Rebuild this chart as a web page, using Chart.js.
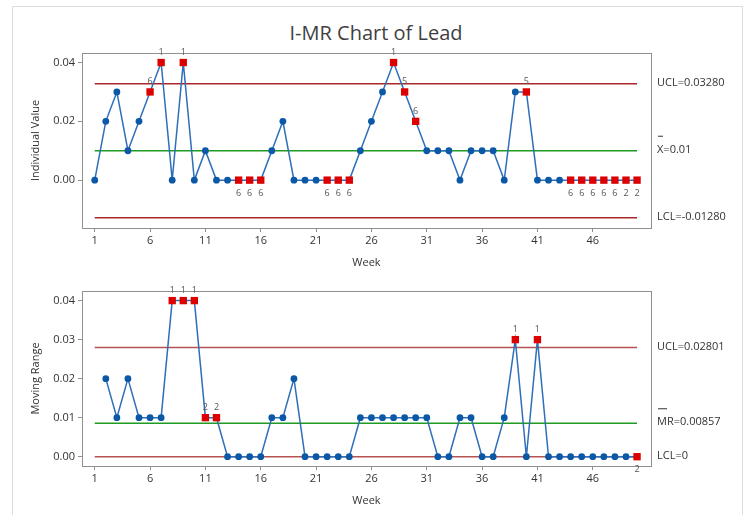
<!DOCTYPE html>
<html>
<head>
<meta charset="utf-8">
<script src="https://cdn.jsdelivr.net/npm/chart.js@4.4.1/dist/chart.umd.min.js"></script>
<style>
body { margin: 0; background: #fff; width: 747px; height: 515px; overflow: hidden; position: relative; font-family: "Open Sans", sans-serif; }
#frame { position: absolute; left: 12px; top: 6px; width: 729px; height: 530px; border: 1px solid #dcdcdc; }
#title { position: absolute; left: 0; width: 752px; top: 21px; line-height: 24px; text-align: center; font-size: 20px; color: #3f3f3f; }
#c1 { position: absolute; left: 0; top: 0; }
#c2 { position: absolute; left: 0; top: 275px; }
</style>
</head>
<body>
<div id="frame"></div>
<div id="title">I-MR Chart of Lead</div>
<canvas id="c1" width="747" height="275"></canvas>
<canvas id="c2" width="747" height="240"></canvas>
<script>
// week numbers
var weeks = [1,2,3,4,5,6,7,8,9,10,11,12,13,14,15,16,17,18,19,20,21,22,23,24,25,
             26,27,28,29,30,31,32,33,34,35,36,37,38,39,40,41,42,43,44,45,46,47,48,49,50];
// individual values
var leadValues = [0,0.02,0.03,0.01,0.02,0.03,0.04,0,0.04,0,0.01,0,0,0,0,0,0.01,0.02,0,0,0,0,0,0,0.01,
                  0.02,0.03,0.04,0.03,0.02,0.01,0.01,0.01,0,0.01,0.01,0.01,0,0.03,0.03,0,0,0,0,0,0,0,0,0,0];
// failed test numbers per week ('' = none)
var leadTests = ['','','','','','6','1','','1','','','','','6','6','6','','','','','','6','6','6','',
                 '','','1','5','6','','','','','','','','','','5','','','','6','6','6','6','6','2','2'];
// moving ranges, weeks 2..50
var mrWeeks = weeks.slice(1);
var mrValues = [0.02,0.01,0.02,0.01,0.01,0.01,0.04,0.04,0.04,0.01,0.01,0,0,0,0,0.01,0.01,0.02,0,0,0,0,0,0.01,
                0.01,0.01,0.01,0.01,0.01,0.01,0,0,0.01,0.01,0,0,0.01,0.03,0,0.03,0,0,0,0,0,0,0,0,0];
var mrTests = ['','','','','','','1','1','1','2','2','','','','','','','','','','','','','',
               '','','','','','','','','','','','','','1','','1','','','','','','','','','2'];
// control limits: UCL, centre, LCL
var leadLimits = [0.0328, 0.01, -0.0128];
var leadLimitText = ['UCL=0.03280', 'X=0.01', 'LCL=-0.01280'];
var mrLimits = [0.02801, 0.00857, 0];
var mrLimitText = ['UCL=0.02801', 'MR=0.00857', 'LCL=0'];
// tick labels
var weekTicks = [1,6,11,16,21,26,31,36,41,46];
var leadTicks = [0, 0.02, 0.04];
var mrTicks = [0, 0.01, 0.02, 0.03, 0.04];

var FONT = '"Open Sans", sans-serif';
var TXT = '#333333';

var imrDecor = {
    id: 'imrDecor',
    afterDatasetsDraw: function(chart, args, opts) {
        var ctx = chart.ctx, a = chart.chartArea, ys = chart.scales.y;
        ctx.save();
        ctx.strokeStyle = '#8f8f8f';
        ctx.lineWidth = 1;
        ctx.strokeRect(Math.round(a.left) + 0.5, Math.round(a.top) + 0.5,
                       Math.round(a.right - a.left), Math.round(a.bottom - a.top));
        // limit labels on the right
        ctx.font = '11px ' + FONT;
        ctx.fillStyle = TXT;
        ctx.textAlign = 'left';
        ctx.textBaseline = 'middle';
        opts.text.forEach(function(t, i) {
            var y = ys.getPixelForValue(opts.limits[i]) - 1;
            ctx.fillText(t, a.right + 6, y);
            if (i === 1) {
                // bar over X / MR
                ctx.strokeStyle = TXT;
                ctx.beginPath();
                ctx.moveTo(a.right + 7, y - 13.5);
                ctx.lineTo(a.right + 7 + opts.bar, y - 13.5);
                ctx.stroke();
            }
        });
        // test numbers next to flagged points
        var meta = chart.getDatasetMeta(0);
        ctx.font = '9px ' + FONT;
        ctx.fillStyle = '#555555';
        ctx.textAlign = 'center';
        opts.tests.forEach(function(t, i) {
            if (!t) return;
            var p = meta.data[i];
            var below = opts.values[i] === 0;
            ctx.fillText(t, p.x, below ? p.y + 13 : p.y - 10);
        });
        ctx.restore();
    }
};

function limitSet(v, color, xs) {
    return {
        data: [{x: xs[0], y: v}, {x: xs[xs.length - 1], y: v}],
        borderColor: color, borderWidth: 1.5, pointRadius: 0, fill: false
    };
}

function makeChart(id, xs, values, tests, limits, limitText, bar, yTicks, yMin, yMax, yTitle, padTop, padBottom, redColor) {
    var pts = xs.map(function(x, i) { return {x: x, y: values[i]}; });
    var flagged = tests.map(function(t) { return t !== ''; });
    return new Chart(document.getElementById(id).getContext('2d'), {
        type: 'line',
        data: {
            datasets: [
                {
                    data: pts,
                    borderColor: '#2e6fba',
                    borderWidth: 1.5,
                    tension: 0,
                    pointStyle: flagged.map(function(f) { return f ? 'rect' : 'circle'; }),
                    pointRadius: flagged.map(function(f) { return f ? 5.2 : 3.4; }),
                    pointBackgroundColor: flagged.map(function(f) { return f ? '#dd0000' : '#0b58a6'; }),
                    pointBorderWidth: 0,
                    clip: false
                },
                limitSet(limits[0], redColor, weeks),
                limitSet(limits[1], '#1f9a22', weeks),
                limitSet(limits[2], redColor, weeks)
            ]
        },
        options: {
            responsive: false,
            animation: false,
            layout: { padding: { left: 0, right: 96, top: padTop, bottom: padBottom } },
            plugins: {
                legend: { display: false },
                tooltip: { enabled: false },
                imrDecor: { text: limitText, limits: limits, bar: bar, tests: tests, values: values }
            },
            scales: {
                x: {
                    type: 'linear',
                    min: -0.15, max: 51.26,
                    afterBuildTicks: function(s) { s.ticks = weekTicks.map(function(v) { return {value: v}; }); },
                    afterFit: function(s) { s.height = 41; },
                    ticks: { autoSkip: false, maxRotation: 0, padding: 2, color: TXT, font: { size: 11, family: FONT },
                             callback: function(v) { return String(v); } },
                    grid: { drawOnChartArea: false, drawTicks: true, tickLength: 4, color: '#8f8f8f' },
                    border: { display: false },
                    title: { display: true, text: 'Week', color: TXT, font: { size: 11, family: FONT }, padding: { top: 0, bottom: 0 } }
                },
                y: {
                    min: yMin, max: yMax,
                    afterBuildTicks: function(s) { s.ticks = yTicks.map(function(v) { return {value: v}; }); },
                    afterFit: function(s) { s.width = 82; },
                    ticks: { padding: 3, color: TXT, font: { size: 11, family: FONT },
                             callback: function(v) { return Number(v).toFixed(2); } },
                    grid: { drawOnChartArea: false, drawTicks: true, tickLength: 4, color: '#8f8f8f' },
                    border: { display: false },
                    title: { display: true, text: yTitle, color: TXT, font: { size: 11, family: FONT }, padding: { top: 29, bottom: 0 } }
                }
            }
        },
        plugins: [imrDecor]
    });
}

makeChart('c1', weeks, leadValues, leadTests, leadLimits, leadLimitText, 5, leadTicks,
          -0.01628, 0.04324, 'Individual Value', 53, 6, '#a8282c');
makeChart('c2', mrWeeks, mrValues, mrTests, mrLimits, mrLimitText, 9, mrTicks,
          -0.00238, 0.04246, 'Moving Range', 16, 8, '#b65252');
</script>
</body>
</html>
